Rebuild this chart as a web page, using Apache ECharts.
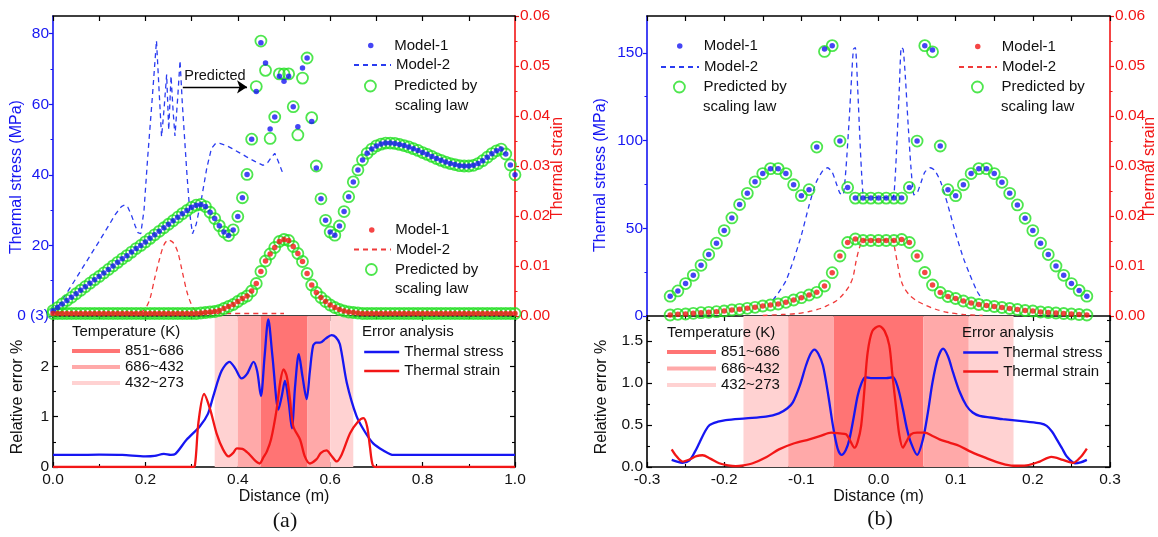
<!DOCTYPE html>
<html><head><meta charset="utf-8">
<script src="https://cdn.jsdelivr.net/npm/echarts@6/dist/echarts.min.js"></script>
<style>html,body{margin:0;padding:0;background:#fff}#c{width:1158px;height:537px}</style>
</head><body><div id="c"></div>
<script>
// ---------------- DATA ----------------
// Panel (a): distance along the part (m)
const aDist = [0,0.01,0.02,0.03,0.04,0.05,0.06,0.07,0.08,0.09,0.1,0.11,0.12,0.13,0.14,0.15,0.16,0.17,0.18,0.19,0.2,0.21,0.22,0.23,0.24,0.25,0.26,0.27,0.28,0.29,0.3,0.31,0.32,0.33,0.34,0.35,0.36,0.37,0.38,0.39,0.4,0.41,0.42,0.43,0.44,0.45,0.46,0.47,0.48,0.49,0.5,0.51,0.52,0.53,0.54,0.55,0.56,0.57,0.58,0.59,0.6,0.61,0.62,0.63,0.64,0.65,0.66,0.67,0.68,0.69,0.7,0.71,0.72,0.73,0.74,0.75,0.76,0.77,0.78,0.79,0.8,0.81,0.82,0.83,0.84,0.85,0.86,0.87,0.88,0.89,0.9,0.91,0.92,0.93,0.94,0.95,0.96,0.97,0.98,0.99,1];
const aStressM1 = [1.5,2.4,3.4,4.4,5.3,6.3,7.3,8.3,9.3,10.3,
  11.2,12.2,13.2,14.2,15.2,16.2,17.1,18.1,19.1,20.0,
  21.0,22.0,23.0,24.0,25.0,26.0,27.0,28.0,29.0,29.9,
  30.8,31.4,31.6,31.0,29.4,27.6,25.6,23.8,22.8,24.4,
  28.2,33.5,40.1,50.1,63.6,77.4,71.7,53.0,56.4,67.9,
  66.5,67.9,59.3,53.6,70.3,73.1,55.1,41.9,33.2,27.1,
  23.8,22.9,25.5,29.6,33.8,38.0,41.4,44.2,46.1,47.3,
  48.2,48.7,49.0,49.0,48.9,48.6,48.3,47.9,47.4,46.9,
  46.3,45.8,45.2,44.6,44.1,43.6,43.2,42.9,42.6,42.5,
  42.5,42.7,43.2,44.0,45.0,46.0,46.8,47.3,45.9,42.8,40.0];
const aStressPred = [1.5,2.4,3.4,4.4,5.3,6.3,7.3,8.3,9.3,10.3,
  11.2,12.2,13.2,14.2,15.2,16.2,17.1,18.1,19.1,20.0,
  21.0,22.0,23.0,24.0,25.0,26.0,27.0,28.0,29.0,29.9,
  30.8,31.4,31.6,31.0,29.4,27.6,25.6,23.8,22.8,24.4,
  28.2,33.5,40.1,50.1,65.0,77.9,69.6,50.3,56.4,68.6,
  68.6,68.6,59.3,51.3,67.4,73.1,56.2,42.5,33.2,27.1,
  23.8,22.9,25.5,29.6,33.8,38.0,41.4,44.2,46.1,47.3,
  48.2,48.7,49.0,49.0,48.9,48.6,48.3,47.9,47.4,46.9,
  46.3,45.8,45.2,44.6,44.1,43.6,43.2,42.9,42.6,42.5,
  42.5,42.7,43.2,44.0,45.0,46.0,46.8,47.3,45.9,42.8,40.0];
const aStrainM1 = [0.0005,0.0005,0.0005,0.0005,0.0005,0.0005,0.0005,0.0005,0.0005,0.0005,
  0.0005,0.0005,0.0005,0.0005,0.0005,0.0005,0.0005,0.0005,0.0005,0.0005,
  0.0005,0.0005,0.0005,0.0005,0.0005,0.0005,0.0005,0.0005,0.0005,0.0005,
  0.0005,0.0005,0.0006,0.0007,0.0008,0.0009,0.0011,0.0015,0.0019,0.0023,
  0.0029,0.0035,0.0040,0.0050,0.0065,0.0089,0.0110,0.0124,0.0137,0.0149,
  0.0153,0.0151,0.0139,0.0125,0.0109,0.0085,0.0062,0.0047,0.0037,0.0029,
  0.0022,0.0017,0.0013,0.0010,0.0008,0.0007,0.0006,0.0005,0.0005,0.0005,
  0.0005,0.0005,0.0005,0.0005,0.0005,0.0005,0.0005,0.0005,0.0005,0.0005,
  0.0005,0.0005,0.0005,0.0005,0.0005,0.0005,0.0005,0.0005,0.0005,0.0005,
  0.0005,0.0005,0.0005,0.0005,0.0005,0.0005,0.0005,0.0005,0.0005,0.0005,0.0005];
const aStrainPred = aStrainM1.slice();
// Model-2 curves (a): [distance, value]
const aM2Stress = [[0,0.5],[0.02,4.5],[0.04,8.6],[0.06,12.8],[0.08,17],[0.1,21.2],[0.12,25.5],[0.135,28.8],[0.148,31],[0.155,31.5],[0.162,30.8],[0.17,28.5],[0.178,25.5],[0.184,23.6],[0.19,23.3],[0.197,30],[0.205,45],[0.215,62],[0.224,78],[0.23,63],[0.235,50.8],[0.24,58],[0.246,68.4],[0.2505,52.7],[0.2555,68],[0.26,58],[0.264,51],[0.27,62],[0.275,72.4],[0.28,60],[0.29,40],[0.297,28],[0.302,23.3],[0.31,26],[0.322,33.7],[0.333,42],[0.343,47.5],[0.352,48.9],[0.361,48.9],[0.375,48.3],[0.387,47.5],[0.403,46.3],[0.419,45.1],[0.437,43.8],[0.455,42.7],[0.465,43.5],[0.473,45],[0.48,46.1],[0.487,44],[0.499,39.9]];
const aM2Strain = [[0.17,0.0005],[0.19,0.0008],[0.2,0.0015],[0.21,0.0035],[0.22,0.0075],[0.23,0.0112],[0.24,0.0142],[0.25,0.0152],[0.26,0.0147],[0.27,0.0128],[0.28,0.0088],[0.29,0.0048],[0.3,0.0022],[0.31,0.0008],[0.32,0.0005],[0.5,0.0005]];
// Relative error (a)
const aErrStress = [[0,0.24],[0.05,0.24],[0.1,0.245],[0.15,0.24],[0.2,0.21],[0.22,0.22],[0.24,0.26],[0.255,0.24],[0.265,0.26],[0.289,0.54],[0.318,0.81],[0.335,1.05],[0.347,1.41],[0.365,1.91],[0.382,2.09],[0.395,1.95],[0.408,1.76],[0.42,1.85],[0.434,2.09],[0.442,1.9],[0.45,1.41],[0.458,2.2],[0.466,2.93],[0.475,2.2],[0.488,1.14],[0.495,1.4],[0.502,1.71],[0.51,1.3],[0.517,0.77],[0.524,1.6],[0.532,2.24],[0.54,1.8],[0.549,1.35],[0.556,1.9],[0.563,2.41],[0.57,2.47],[0.578,2.47],[0.59,2.55],[0.603,2.62],[0.612,2.58],[0.621,2.44],[0.636,1.67],[0.657,1.01],[0.675,0.7],[0.693,0.47],[0.715,0.33],[0.737,0.24],[0.8,0.24],[0.9,0.24],[1,0.24]];
const aErrStrain = [[0,0],[0.3,0],[0.307,0.02],[0.315,0.9],[0.327,1.45],[0.34,1.15],[0.354,0.67],[0.368,0.35],[0.38,0.21],[0.39,0.28],[0.398,0.37],[0.41,0.36],[0.423,0.27],[0.437,0.13],[0.447,0.07],[0.456,0.2],[0.463,0.31],[0.472,0.55],[0.484,1.14],[0.492,1.7],[0.499,1.94],[0.506,1.8],[0.513,1.34],[0.52,0.81],[0.535,0.54],[0.545,0.21],[0.556,0.07],[0.57,0.15],[0.58,0.28],[0.592,0.33],[0.603,0.22],[0.614,0.11],[0.625,0.25],[0.643,0.67],[0.66,0.9],[0.672,0.97],[0.68,0.8],[0.686,0.4],[0.692,0.04],[0.7,0],[1,0]];
// Temperature bands (a): [from, to, level]
const aBands = [[0.35,0.40,'lo'],[0.40,0.45,'mid'],[0.45,0.55,'hi'],[0.55,0.60,'mid'],[0.60,0.65,'lo']];

// Panel (b)
const bDist = [-0.27,-0.26,-0.25,-0.24,-0.23,-0.22,-0.21,-0.2,-0.19,-0.18,-0.17,-0.16,-0.15,-0.14,-0.13,-0.12,-0.11,-0.1,-0.09,-0.08,-0.07,-0.06,-0.05,-0.04,-0.03,-0.02,-0.01,0,0.01,0.02,0.03,0.04,0.05,0.06,0.07,0.08,0.09,0.1,0.11,0.12,0.13,0.14,0.15,0.16,0.17,0.18,0.19,0.2,0.21,0.22,0.23,0.24,0.25,0.26,0.27];
const bStressM1 = [11.3,14.3,18.5,23.2,28.9,35,41.5,48.7,55.9,63.5,69.9,76.5,81.2,84,84,81.2,74.8,68.6,72,96.3,152.2,154.1,99.7,73.3,67.2,67.2,67.2,
  67.2,
  67.2,67.2,67.2,73.3,99.7,154.1,151.6,96.9,72,68.6,74.8,81.2,84,84,81.2,76.2,69.9,63.3,55.7,48.7,41.5,35,28.5,23.2,18.5,14.6,11.3];
const bStressPred = [11.3,14.3,18.5,23.2,28.9,35,41.5,48.7,55.9,63.5,69.9,76.5,81.2,84,84,81.2,74.8,68.6,72,96.3,150.8,154.1,99.7,73.3,67.2,67.2,67.2,
  67.2,
  67.2,67.2,67.2,73.3,99.7,154.1,150.6,96.9,72,68.6,74.8,81.2,84,84,81.2,76.2,69.9,63.3,55.7,48.7,41.5,35,28.5,23.2,18.5,14.6,11.3];
const bStrainM1 = [0.0002,0.00034,0.0004,0.00054,0.00066,0.00074,0.00086,0.001,0.0012,0.00134,0.00154,0.00174,0.002,0.0022,0.0024,0.00274,0.0032,0.00366,0.0042,0.00474,0.006,0.00866,0.012,0.0147,0.0154,0.0151,0.0151,
  0.0151,
  0.0151,0.0151,0.0153,0.0147,0.012,0.0087,0.0062,0.0047,0.0039,0.0035,0.003,0.0026,0.0023,0.0021,0.0019,0.0017,0.0015,0.0013,0.0011,0.001,0.0008,0.0007,0.0006,0.0005,0.0004,0.0003,0.0002];
const bStrainPred = bStrainM1.slice();
const bM2Stress = [[-0.137,9],[-0.13,13],[-0.12,20],[-0.11,32],[-0.1,46],[-0.09,63],[-0.081,76],[-0.072,83],[-0.066,84.5],[-0.06,82],[-0.055,76],[-0.05,70],[-0.046,69],[-0.042,85],[-0.038,112],[-0.035,135],[-0.0325,152],[-0.03,153],[-0.027,130],[-0.024,100],[-0.021,75],[-0.018,67.5],[0.018,67.5],[0.021,75],[0.024,100],[0.027,130],[0.0295,153],[0.032,152],[0.035,135],[0.038,112],[0.042,85],[0.046,69],[0.05,70],[0.055,76],[0.06,82],[0.067,84.5],[0.073,83],[0.081,76],[0.09,63],[0.1,47],[0.11,33],[0.118,24],[0.127,14.7],[0.135,9]];
const bM2Strain = [[-0.15,0.0001],[-0.125,0.0003],[-0.105,0.0005],[-0.09,0.0009],[-0.075,0.0015],[-0.065,0.0022],[-0.055,0.003],[-0.046,0.0043],[-0.038,0.006],[-0.033,0.0078],[-0.029,0.011],[-0.025,0.0135],[-0.021,0.015],[-0.018,0.0152],[0.018,0.0152],[0.021,0.0135],[0.024,0.011],[0.028,0.0078],[0.032,0.006],[0.04,0.0042],[0.05,0.003],[0.062,0.0021],[0.075,0.0013],[0.09,0.0007],[0.11,0.0003],[0.135,0.0001]];
const bErrStress = [[-0.268,0.085],[-0.26,0.06],[-0.254,0.05],[-0.245,0.08],[-0.238,0.18],[-0.232,0.29],[-0.225,0.42],[-0.219,0.5],[-0.208,0.54],[-0.198,0.56],[-0.172,0.58],[-0.146,0.6],[-0.129,0.64],[-0.118,0.7],[-0.111,0.77],[-0.102,0.97],[-0.094,1.21],[-0.088,1.35],[-0.083,1.4],[-0.078,1.35],[-0.072,1.21],[-0.065,0.85],[-0.059,0.49],[-0.053,0.22],[-0.048,0.145],[-0.0425,0.2],[-0.0377,0.33],[-0.032,0.6],[-0.027,0.85],[-0.022,1.0],[-0.017,1.07],[-0.01,1.06],[0,1.06],[0.01,1.06],[0.0186,1.07],[0.025,0.95],[0.0316,0.69],[0.037,0.45],[0.042,0.29],[0.05,0.145],[0.0576,0.33],[0.064,0.65],[0.07,1.01],[0.077,1.3],[0.0836,1.41],[0.09,1.32],[0.0965,1.13],[0.105,0.9],[0.114,0.73],[0.122,0.65],[0.131,0.61],[0.145,0.59],[0.161,0.57],[0.192,0.54],[0.21,0.52],[0.218,0.49],[0.225,0.42],[0.231,0.33],[0.238,0.22],[0.244,0.125],[0.2545,0.045],[0.262,0.055],[0.27,0.085]];
const bErrStrain = [[-0.268,0.21],[-0.262,0.13],[-0.254,0.065],[-0.245,0.09],[-0.236,0.13],[-0.228,0.14],[-0.218,0.1],[-0.2065,0.045],[-0.195,0.02],[-0.185,0.01],[-0.175,0.02],[-0.163,0.045],[-0.145,0.12],[-0.129,0.21],[-0.11,0.28],[-0.0896,0.33],[-0.075,0.37],[-0.0614,0.41],[-0.05,0.4],[-0.042,0.39],[-0.036,0.3],[-0.031,0.23],[-0.027,0.3],[-0.0225,0.49],[-0.018,0.95],[-0.014,1.37],[-0.008,1.62],[0.001,1.68],[0.008,1.62],[0.014,1.45],[0.018,1.1],[0.023,0.69],[0.027,0.38],[0.0316,0.23],[0.036,0.3],[0.042,0.39],[0.05,0.41],[0.06,0.41],[0.07,0.37],[0.079,0.33],[0.092,0.29],[0.105,0.25],[0.12,0.18],[0.14,0.105],[0.16,0.04],[0.1745,0.015],[0.192,0.02],[0.209,0.065],[0.224,0.12],[0.239,0.085],[0.2523,0.05],[0.262,0.12],[0.27,0.22]];
const bBands = [[-0.175,-0.117,'lo'],[-0.117,-0.058,'mid'],[-0.058,0.058,'hi'],[0.058,0.117,'mid'],[0.117,0.175,'lo']];

// Tick labels
const aStressTicks = [0,20,40,60,80];
const bStressTicks = [0,50,100,150];
const aErrTicks = [0,1,2];
const bErrTicks = [0,0.5,1,1.5];
const tempLabels = ['851~686','686~432','432~273'];
// Annotation arrow (a)
const arrowA = {from:[0.281,64.9], to:[0.42,64.9], text:'Predicted'};

// ---------------- STYLE ----------------
const FONT = '"Liberation Sans", Arial, Helvetica, sans-serif';
const SERIF = '"Liberation Serif", "Times New Roman", serif';
const BLUE = '#1616f2', RED = '#f21616', GREEN = '#22e022', INK = '#111111';
const BLUE_D = '#2a3cf0', RED_D = '#f03a3a';
const BAND = {hi:'#ff7474', mid:'#ffa9a9', lo:'#ffd2d2'};
const TICK = 15.5;
const NONE = 'rgba(0,0,0,0)';

const pairs = (xs, ys) => xs.map((x, i) => [x, ys[i]]);
const f1 = v => (Math.abs(v) < 1e-9 ? 0 : v).toFixed(1);
const f2 = v => (Math.abs(v) < 1e-9 ? 0 : v).toFixed(2);

function ax(o) {
  return Object.assign({type:'value', splitLine:{show:false}, axisLabel:{show:false},
    axisTick:{show:false}, axisLine:{show:false}}, o);
}
const blackLine = {show:true, onZero:false, lineStyle:{color:'#000', width:1.6}};
const inTick = {show:true, inside:true, length:5, lineStyle:{color:'#000', width:1.2}};
const minorIn = {show:true, splitNumber:2, length:3, lineStyle:{color:'#000', width:1.1}};
const lab = (o) => Object.assign({show:true, color:INK, fontSize:TICK, fontFamily:FONT}, o);

const xAxis = [
  ax({gridIndex:0, min:0, max:1, position:'bottom'}),
  ax({gridIndex:0, min:0, max:1, interval:0.1, position:'top', axisLine:blackLine, axisTick:inTick}),
  ax({gridIndex:1, min:0, max:1, interval:0.2, position:'bottom', axisLine:blackLine, axisTick:inTick, minorTick:minorIn,
      axisLabel:lab({margin:5, formatter:f1}), name:'Distance (m)', nameLocation:'middle', nameGap:22,
      nameTextStyle:{color:INK, fontSize:16, fontFamily:FONT}}),
  ax({gridIndex:1, min:0, max:1, interval:0.2, position:'top', axisLine:blackLine, axisTick:inTick, minorTick:minorIn}),
  ax({gridIndex:2, min:-0.3, max:0.3, position:'bottom'}),
  ax({gridIndex:2, min:-0.3, max:0.3, interval:0.05, position:'top', axisLine:blackLine, axisTick:inTick}),
  ax({gridIndex:3, min:-0.3, max:0.3, interval:0.1, position:'bottom', axisLine:blackLine, axisTick:inTick, minorTick:minorIn,
      axisLabel:lab({margin:5, formatter:f1}), name:'Distance (m)', nameLocation:'middle', nameGap:22,
      nameTextStyle:{color:INK, fontSize:16, fontFamily:FONT}}),
  ax({gridIndex:3, min:-0.3, max:0.3, interval:0.1, position:'top', axisLine:blackLine, axisTick:inTick, minorTick:minorIn})
];

const colLine = c => ({show:true, onZero:false, lineStyle:{color:c, width:1.6}});
const outTick = (c, vals) => Object.assign({show:true, inside:false, length:4, lineStyle:{color:c, width:1.2}}, vals ? {customValues:vals} : {});
const minorOut = c => ({show:true, splitNumber:2, length:2.5, lineStyle:{color:c, width:1}});

const yAxis = [
  ax({gridIndex:0, position:'left', min:0, max:85, interval:20, axisLine:colLine(BLUE), axisTick:outTick(BLUE, aStressTicks),
      minorTick:minorOut(BLUE), axisLabel:lab({color:BLUE, margin:4, customValues:aStressTicks, formatter:v => v === 0 ? '0 (3)' : String(v)})}),
  ax({gridIndex:0, position:'right', min:0, max:0.06, interval:0.01, axisLine:colLine(RED), axisTick:outTick(RED),
      minorTick:minorOut(RED), axisLabel:lab({color:RED, margin:5, formatter:f2})}),
  ax({gridIndex:1, position:'left', min:0, max:3, interval:1, axisLine:blackLine, axisTick:inTick, minorTick:minorIn,
      axisLabel:lab({margin:4, customValues:aErrTicks})}),
  ax({gridIndex:1, position:'right', min:0, max:3, interval:1, axisLine:blackLine, axisTick:inTick, minorTick:minorIn}),
  ax({gridIndex:2, position:'left', min:0, max:171, interval:50, axisLine:colLine(BLUE), axisTick:outTick(BLUE, bStressTicks),
      minorTick:minorOut(BLUE), axisLabel:lab({color:BLUE, margin:4, customValues:bStressTicks})}),
  ax({gridIndex:2, position:'right', min:0, max:0.06, interval:0.01, axisLine:colLine(RED), axisTick:outTick(RED),
      minorTick:minorOut(RED), axisLabel:lab({color:RED, margin:5, formatter:f2})}),
  ax({gridIndex:3, position:'left', min:0, max:1.8, interval:0.5, axisLine:blackLine,
      axisTick:Object.assign({}, inTick, {customValues:bErrTicks}), minorTick:minorIn,
      axisLabel:lab({margin:4, customValues:bErrTicks, formatter:f1})}),
  ax({gridIndex:3, position:'right', min:0, max:1.8, interval:0.5, axisLine:blackLine,
      axisTick:Object.assign({}, inTick, {customValues:bErrTicks}), minorTick:minorIn})
];

function dots(name, xi, yi, data, color, extra) {
  return Object.assign({name, type:'scatter', xAxisIndex:xi, yAxisIndex:yi, data, symbol:'circle', symbolSize:5.5,
    itemStyle:{color}, z:5, silent:true}, extra || {});
}
function rings(name, xi, yi, data) {
  return {name, type:'scatter', xAxisIndex:xi, yAxisIndex:yi, data, symbol:'circle', symbolSize:11,
    itemStyle:{color:NONE, borderColor:GREEN, borderWidth:1.8}, z:4, silent:true};
}
function dashed(name, xi, yi, data, color, smooth) {
  return {name, type:'line', xAxisIndex:xi, yAxisIndex:yi, data, symbol:'none', smooth:smooth || false,
    lineStyle:{color, width:1.3, type:[5,4]}, itemStyle:{color}, z:3, silent:true};
}
function errLine(name, xi, yi, data, color, bands) {
  const s = {name, type:'line', xAxisIndex:xi, yAxisIndex:yi, data, symbol:'none', smooth:0.3,
    lineStyle:{color, width:2.3}, itemStyle:{color}, z:3, silent:true};
  if (bands) s.markArea = {silent:true, data: bands.map(b => [
    {xAxis:b[0], itemStyle:{color:BAND[b[2]], borderWidth:0}}, {xAxis:b[1]}])};
  return s;
}
function bandKey(name, color) {
  return {name, type:'line', xAxisIndex:2, yAxisIndex:2, data:[], symbol:'none',
    lineStyle:{color, width:4}, itemStyle:{color}, silent:true};
}

const series = [
  dashed('a_m2_s', 0, 0, aM2Stress, BLUE_D, false),
  dashed('a_m2_e', 0, 1, aM2Strain, RED_D, 0.3),
  rings('a_pr_s', 0, 0, pairs(aDist, aStressPred)),
  dots('a_m1_s', 0, 0, pairs(aDist, aStressM1), BLUE, {
    markLine:{silent:true, symbol:['none','arrow'], symbolSize:10, precision:4,
      lineStyle:{color:'#000', width:1.3, type:'solid'},
      label:{show:true, position:'insideMiddleTop', distance:3, formatter:arrowA.text, color:INK, fontSize:14.5, fontFamily:FONT},
      data:[[{coord:arrowA.from}, {coord:arrowA.to}]]}}),
  rings('a_pr_e', 0, 1, pairs(aDist, aStrainPred)),
  dots('a_m1_e', 0, 1, pairs(aDist, aStrainM1), RED),
  errLine('a_err_s', 2, 2, aErrStress, BLUE, aBands),
  errLine('a_err_e', 2, 2, aErrStrain, RED),
  dashed('b_m2_s', 4, 4, bM2Stress, BLUE_D, 0.2),
  dashed('b_m2_e', 4, 5, bM2Strain, RED_D, 0.3),
  rings('b_pr_s', 4, 4, pairs(bDist, bStressPred)),
  dots('b_m1_s', 4, 4, pairs(bDist, bStressM1), BLUE),
  rings('b_pr_e', 4, 5, pairs(bDist, bStrainPred)),
  dots('b_m1_e', 4, 5, pairs(bDist, bStrainM1), RED),
  errLine('b_err_s', 6, 6, bErrStress, BLUE, bBands),
  errLine('b_err_e', 6, 6, bErrStrain, RED),
  bandKey(tempLabels[0], BAND.hi),
  bandKey(tempLabels[1], BAND.mid),
  bandKey(tempLabels[2], BAND.lo)
];

const LABELS = {a_m1_s:'Model-1', a_m2_s:'Model-2', a_pr_s:'Predicted by', a_m1_e:'Model-1', a_m2_e:'Model-2', a_pr_e:'Predicted by',
  b_m1_s:'Model-1', b_m2_s:'Model-2', b_pr_s:'Predicted by', b_m1_e:'Model-1', b_m2_e:'Model-2', b_pr_e:'Predicted by',
  a_err_s:'Thermal stress', a_err_e:'Thermal strain', b_err_s:'Thermal stress', b_err_e:'Thermal strain'};

function leg(item, left, cy, iw, ih) {
  const h = Math.max(ih, 15);
  return {show:true, data:[item], left, top:cy - h / 2, orient:'vertical', itemWidth:iw, itemHeight:ih, itemGap:0,
    padding:0, selectedMode:false, textStyle:{fontFamily:FONT, fontSize:15, color:INK},
    formatter:n => LABELS[n] || n};
}
const ringItem = n => ({name:n, itemStyle:{color:NONE, borderColor:GREEN, borderWidth:1.8}});
const lineItem = (n, w) => Object.assign({name:n, itemStyle:{color:NONE, borderColor:NONE, borderWidth:0, opacity:0}},
  w ? {lineStyle:{width:w}} : {});

const legend = [
  leg('a_m1_s', 368, 45.5, 37, 5.5), leg(lineItem('a_m2_s'), 353, 65, 37, 10), leg(ringItem('a_pr_s'), 364, 86, 37, 11),
  leg('a_m1_e', 369, 230, 37, 5.5), leg(lineItem('a_m2_e'), 353, 249.5, 37, 10), leg(ringItem('a_pr_e'), 365, 269.5, 37, 11),
  leg('b_m1_s', 677, 46, 38, 5.5), leg(lineItem('b_m2_s'), 660, 67, 38, 10), leg(ringItem('b_pr_s'), 673, 87, 38, 11),
  leg('b_m1_e', 975, 46.5, 38, 5.5), leg(lineItem('b_m2_e'), 958, 67, 38, 10), leg(ringItem('b_pr_e'), 971, 87, 38, 11),
  leg(lineItem(tempLabels[0], 4), 70, 351, 48, 8), leg(lineItem(tempLabels[1], 4), 70, 367, 48, 8), leg(lineItem(tempLabels[2], 4), 70, 383, 48, 8),
  leg(lineItem(tempLabels[0], 4), 665, 352, 49, 8), leg(lineItem(tempLabels[1], 4), 665, 368.5, 49, 8), leg(lineItem(tempLabels[2], 4), 665, 385, 49, 8),
  leg(lineItem('a_err_s', 2.4), 363, 352, 35, 8), leg(lineItem('a_err_e', 2.4), 363, 371, 35, 8),
  leg(lineItem('b_err_s', 2.4), 962, 352.5, 35, 8), leg(lineItem('b_err_e', 2.4), 962, 371.5, 35, 8)
];

function txt(t, x, y, opts) {
  const o = Object.assign({color:INK, size:15, font:FONT, align:'left', rot:0}, opts || {});
  return {type:'text', x, y, rotation:o.rot, silent:true, z:10,
    style:{text:t, fill:o.color, font:o.size + 'px ' + o.font, align:o.align, verticalAlign:'middle',
      textAlign:o.align, textVerticalAlign:'middle'}};
}
const R90 = Math.PI / 2;
const graphic = [
  txt('Thermal stress (MPa)', 17, 177, {color:BLUE, size:16, align:'center', rot:R90}),
  txt('Thermal strain', 558, 168, {color:RED, size:16, align:'center', rot:R90}),
  txt('Relative error %', 18, 397, {size:16, align:'center', rot:R90}),
  txt('Thermal stress (MPa)', 601, 175, {color:BLUE, size:16, align:'center', rot:R90}),
  txt('Thermal strain', 1150, 168, {color:RED, size:16, align:'center', rot:R90}),
  txt('Relative error %', 602, 397, {size:16, align:'center', rot:R90}),
  txt('scaling law', 395, 106), txt('scaling law', 395, 289), txt('scaling law', 703, 107), txt('scaling law', 1001, 107),
  txt('Temperature (K)', 72, 332), txt('Error analysis', 362, 332),
  txt('Temperature (K)', 667, 333), txt('Error analysis', 962, 333),
  txt('(a)', 285, 521, {size:22, font:SERIF, align:'center'}),
  txt('(b)', 880, 519, {size:22, font:SERIF, align:'center'})
];

const option = {
  animation:false,
  backgroundColor:'#ffffff',
  textStyle:{fontFamily:FONT},
  grid:[
    {left:53, top:16, width:462, height:300, containLabel:false, outerBoundsMode:'none'},
    {left:53, top:316, width:462, height:151, containLabel:false, outerBoundsMode:'none'},
    {left:647, top:16, width:463, height:300, containLabel:false, outerBoundsMode:'none'},
    {left:647, top:316, width:463, height:151, containLabel:false, outerBoundsMode:'none'}
  ],
  xAxis, yAxis, series, legend, graphic
};
const chart = echarts.init(document.getElementById('c'), null, {renderer:'canvas'});
chart.setOption(option);
</script></body></html>
